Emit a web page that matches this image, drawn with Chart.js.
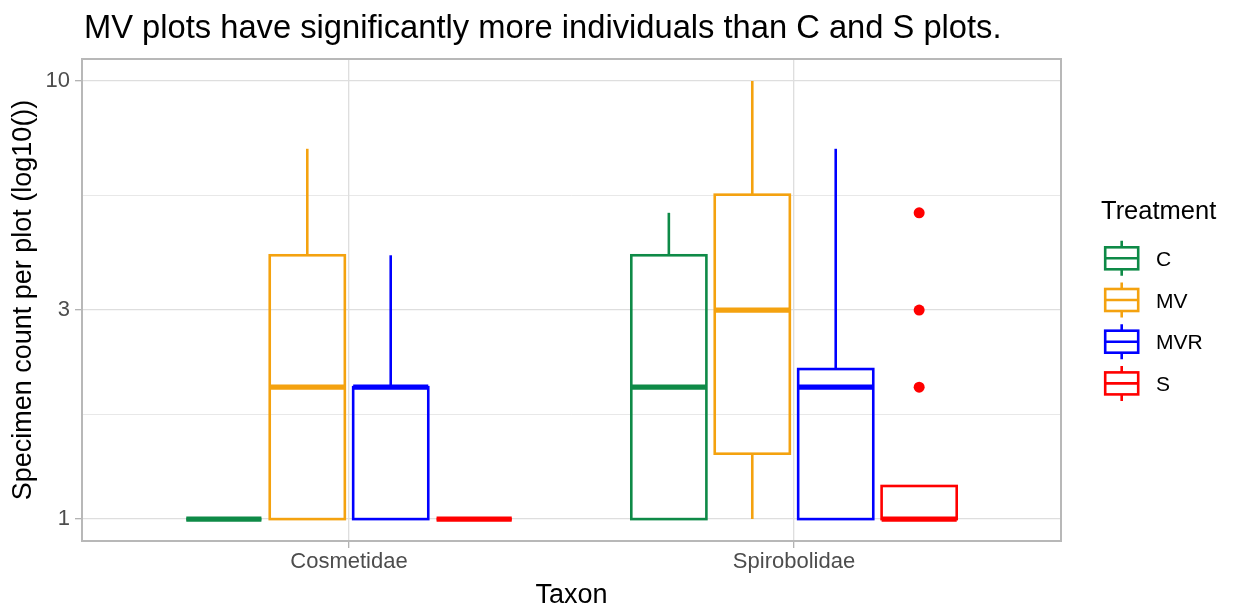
<!DOCTYPE html>
<html>
<head>
<meta charset="utf-8">
<script src="https://cdn.jsdelivr.net/npm/chart.js@4.4.1/dist/chart.umd.min.js"></script>
<style>
  html, body { margin: 0; padding: 0; background: #ffffff; }
  canvas { display: block; }
</style>
</head>
<body>
<canvas id="chart" width="1238" height="605"></canvas>
<script>
// ---- data -------------------------------------------------------------
const taxa = ['Cosmetidae', 'Spirobolidae'];
const treatments = ['C', 'MV', 'MVR', 'S'];
// five-number summaries per taxon: [lower whisker, Q1, median, Q3, upper whisker]
const boxC   = [[1, 1, 1, 1, 1],     [1, 1, 2, 4, 5]];
const boxMV  = [[1, 1, 2, 4, 7],     [1, 1.41, 3, 5.5, 10]];
const boxMVR = [[1, 1, 2, 2, 4],     [1, 1, 2, 2.2, 7]];
const boxS   = [[1, 1, 1, 1, 1],     [1, 1, 1, 1.19, 1.19]];
// points beyond the whiskers, per taxon
const outliersS = [[], [2, 3, 5]];
// y axis breaks (log10 scale)
const yMajorTicks = [1, 3, 10];
const yMinorTicks = [Math.sqrt(3), Math.sqrt(30)];

// ---- styling ------------------------------------------------------------
const FONT = "'Liberation Sans', Arial, Helvetica, sans-serif";
const colors = { C: '#0E8A47', MV: '#F4A20F', MVR: '#0000FF', S: '#FF0000' };
const boxStats = { C: boxC, MV: boxMV, MVR: boxMVR, S: boxS };
const LW = 2.6;          // box / whisker line width
const MEDIAN_LW = 5.2;   // median line width
const GRID = '#DEDEDE';

// dodge layout within each taxon
const dodgeWidth = 0.75;
const slot = dodgeWidth / treatments.length;
const halfBox = slot * 0.9 / 2;
const xPos = (taxonIdx, trtIdx) => taxonIdx + 1 + (trtIdx - (treatments.length - 1) / 2) * slot;

const outlierPoints = [];
outliersS.forEach((vals, ti) => vals.forEach(v => outlierPoints.push({ x: xPos(ti, 3), y: v })));

const isMajor = v => yMajorTicks.some(m => Math.abs(m - v) < 1e-9);

// ---- box plots drawn through the chart's scales ----------------------------
const boxPlugin = {
  id: 'boxes',
  beforeDatasetsDraw(chart) {
    const { ctx, scales: { x, y } } = chart;
    ctx.save();
    treatments.forEach((t, ti) => {
      boxStats[t].forEach((s, ci) => {
        const cx = x.getPixelForValue(xPos(ci, ti));
        const x0 = x.getPixelForValue(xPos(ci, ti) - halfBox);
        const x1 = x.getPixelForValue(xPos(ci, ti) + halfBox);
        const [lo, q1, med, q3, hi] = s.map(v => y.getPixelForValue(v));
        ctx.strokeStyle = colors[t];
        ctx.lineWidth = LW;
        ctx.lineCap = 'butt';
        ctx.lineJoin = 'miter';
        // whiskers
        ctx.beginPath();
        ctx.moveTo(cx, q3); ctx.lineTo(cx, hi);
        ctx.moveTo(cx, q1); ctx.lineTo(cx, lo);
        ctx.stroke();
        // box
        ctx.strokeRect(x0, q3, x1 - x0, q1 - q3);
        // median
        ctx.lineWidth = MEDIAN_LW;
        ctx.beginPath();
        ctx.moveTo(x0, med); ctx.lineTo(x1, med);
        ctx.stroke();
      });
    });
    ctx.restore();
  },
  afterDatasetsDraw(chart) {
    const { ctx, chartArea: a } = chart;
    ctx.save();
    ctx.strokeStyle = '#B8B8B8';
    ctx.lineWidth = 2;
    ctx.strokeRect(a.left, a.top, a.right - a.left, a.bottom - a.top);
    ctx.restore();
  },
  afterDraw(chart) {
    const { ctx } = chart;
    ctx.save();
    // plot title
    ctx.fillStyle = '#000000';
    ctx.textAlign = 'left';
    ctx.textBaseline = 'alphabetic';
    ctx.font = `32.7px ${FONT}`;
    ctx.fillText('MV plots have significantly more individuals than C and S plots.', 84, 38);
    // legend
    ctx.font = `25.5px ${FONT}`;
    ctx.fillText('Treatment', 1101, 218.5);
    ctx.font = `21px ${FONT}`;
    treatments.forEach((t, i) => {
      const cy = 258.3 + i * 41.7;
      const cx = 1121.7;
      ctx.strokeStyle = colors[t];
      ctx.lineWidth = LW;
      ctx.beginPath();
      ctx.moveTo(cx, cy - 17.5); ctx.lineTo(cx, cy - 11);
      ctx.moveTo(cx, cy + 11); ctx.lineTo(cx, cy + 17.5);
      ctx.moveTo(cx - 16.5, cy); ctx.lineTo(cx + 16.5, cy);
      ctx.stroke();
      ctx.strokeRect(cx - 16.5, cy - 11, 33, 22);
      ctx.fillStyle = '#000000';
      ctx.fillText(t, 1156, cy + 7.5);
    });
    ctx.restore();
  }
};

Chart.defaults.font.family = FONT;

new Chart(document.getElementById('chart'), {
  type: 'scatter',
  data: {
    datasets: [{
      label: 'S outliers',
      data: outlierPoints,
      pointRadius: 5.5,
      pointHoverRadius: 5.5,
      backgroundColor: colors.S,
      borderWidth: 0
    }]
  },
  options: {
    responsive: false,
    animation: false,
    events: [],
    layout: { padding: { top: 59, right: 177, bottom: 0, left: 0 } },
    plugins: { legend: { display: false }, tooltip: { enabled: false }, title: { display: false } },
    scales: {
      x: {
        type: 'linear',
        min: 0.4,
        max: 2.6,
        afterBuildTicks: s => { s.ticks = taxa.map((_, i) => ({ value: i + 1 })); },
        afterFit: s => { s.height = 64; },
        ticks: {
          autoSkip: false,
          maxRotation: 0,
          padding: 2,
          color: '#4D4D4D',
          font: { size: 22, lineHeight: 1.1 },
          callback: v => taxa[Math.round(v) - 1]
        },
        grid: { color: GRID, lineWidth: 1.33, tickColor: '#B3B3B3', tickLength: 7, tickWidth: 1.33 },
        border: { display: false },
        title: {
          display: true,
          text: 'Taxon',
          color: '#000000',
          font: { size: 27, lineHeight: 0.67 },
          padding: { top: 0, bottom: 0 }
        }
      },
      y: {
        type: 'logarithmic',
        min: Math.pow(10, -0.05),
        max: Math.pow(10, 1.05),
        afterBuildTicks: s => {
          s.ticks = [...yMajorTicks, ...yMinorTicks].sort((a, b) => a - b).map(v => ({ value: v, major: isMajor(v) }));
        },
        afterFit: s => { s.width = 82; },
        ticks: {
          autoSkip: false,
          padding: 5,
          color: '#4D4D4D',
          font: { size: 22 },
          callback: v => (isMajor(v) ? String(v) : '')
        },
        grid: {
          color: GRID,
          lineWidth: c => (c.tick && isMajor(c.tick.value) ? 1.33 : 0.7),
          tickColor: c => (c.tick && isMajor(c.tick.value) ? '#B3B3B3' : 'rgba(0,0,0,0)'),
          tickLength: 7,
          tickWidth: 1.33
        },
        border: { display: false },
        title: {
          display: true,
          text: 'Specimen count per plot (log10())',
          color: '#000000',
          font: { size: 27, lineHeight: 1 },
          padding: { top: 10, bottom: 0 }
        }
      }
    }
  },
  plugins: [boxPlugin]
});
</script>
</body>
</html>
